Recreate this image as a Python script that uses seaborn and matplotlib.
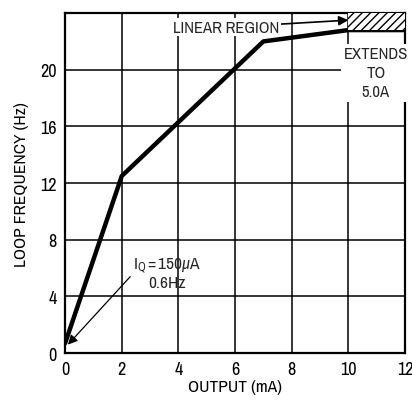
import numpy as np
import pandas as pd
import seaborn as sns
from matplotlib import pyplot as plt

# values
output_ma = [0.0, 2.0, 7.0, 10.0, 12.0]
loop_hz = [0.7, 12.5, 22.0, 22.8, 22.8]
x_ticks = [0, 2, 4, 6, 8, 10, 12]
y_ticks = [0, 4, 8, 12, 16, 20]
linear_region = [10.0, 12.0]

sns.set_theme(style="white")
plt.rcParams['font.family'] = ['Archivo Narrow', 'DejaVu Sans']
plt.rcParams['mathtext.fontset'] = 'custom'
plt.rcParams['mathtext.rm'] = 'Archivo Narrow'
plt.rcParams['mathtext.it'] = 'Archivo Narrow:italic'

df = pd.DataFrame({"output": output_ma, "freq": loop_hz})

fig = plt.figure(figsize=(4.12, 4.02), dpi=100)
ax = fig.add_axes([0.158, 0.119, 0.825, 0.846])

sns.lineplot(data=df, x="output", y="freq", ax=ax, color="black", linewidth=3.2)

ax.set_xlim(0, 12)
ax.set_ylim(0, 24)
ax.set_xticks(x_ticks)
ax.set_yticks(y_ticks)
ax.tick_params(labelsize=13, length=0, pad=6, colors="black")
ax.grid(True, color="black", linewidth=1.1)
for s in ax.spines.values():
    s.set_color("black")
    s.set_linewidth(1.6)

# hatched linear region
ax.fill_between(linear_region, loop_hz[-1], 24, facecolor="white",
                edgecolor="black", hatch="////", linewidth=0, zorder=3)

ax.set_xlabel("OUTPUT (mA)", fontsize=12.5, color="black", labelpad=1)
ax.set_ylabel("LOOP FREQUENCY (Hz)", fontsize=12.5, color="black", labelpad=8)

ax.annotate("LINEAR REGION", xy=(10.0, 23.5), xytext=(5.7, 23.0),
            ha="center", va="center", fontsize=12,
            bbox=dict(facecolor="white", edgecolor="none", pad=1),
            arrowprops=dict(arrowstyle="-|>", color="black", lw=1.2,
                            shrinkA=0, shrinkB=0, mutation_scale=14))

ax.text(10.97, 19.8, "EXTENDS\nTO\n5.0A", ha="center", va="center",
        fontsize=12, linespacing=1.3,
        bbox=dict(facecolor="white", edgecolor="none", pad=2))

ax.text(3.6, 5.7, "I$_\\mathregular{Q}$$\\,$=$\\,$150$\\mu$A\n0.6Hz", ha="center", va="center",
        fontsize=12.5, linespacing=1.0)
ax.annotate("", xy=(0.1, 0.6), xytext=(2.3, 5.4),
            arrowprops=dict(arrowstyle="-|>", color="black", lw=0.9,
                            shrinkA=0, shrinkB=0, mutation_scale=14))

fig.savefig("out.png", dpi=100)
